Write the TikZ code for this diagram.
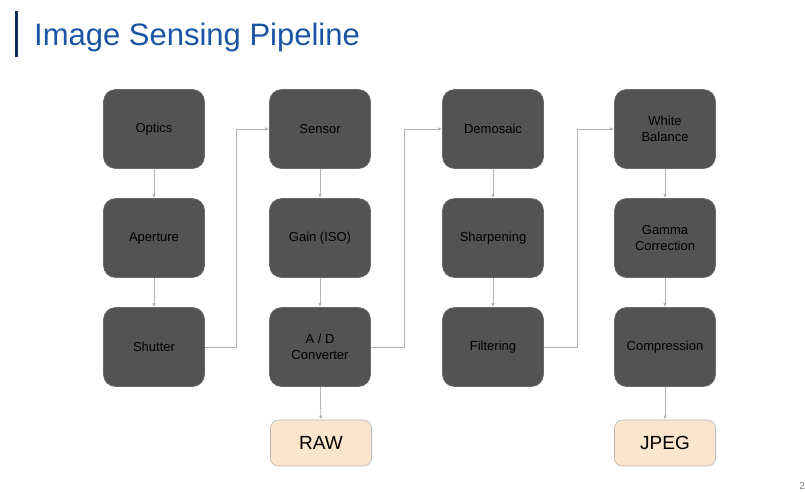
\documentclass[tikz,border=0pt]{standalone}
\usepackage{fontspec}
\setmainfont{Liberation Sans}
\usetikzlibrary{arrows.meta}

\definecolor{boxgray}{HTML}{535353}
\definecolor{boxedge}{HTML}{6A6A6A}
\definecolor{outfill}{HTML}{FCE5CD}
\definecolor{outedge}{HTML}{B7B7B7}
\definecolor{linegray}{HTML}{B3B3B3}
\definecolor{titleblue}{HTML}{1A55A5}
\definecolor{titlebar}{HTML}{0F2D5A}

\begin{document}
\begin{tikzpicture}[x=1pt, y=-1pt,
  stage/.style={draw=boxedge, fill=boxgray, rounded corners=12pt, line width=0.6pt,
    minimum width=101pt, minimum height=79pt, align=center, text=black,
    font=\fontsize{13}{15.5}\selectfont},
  result/.style={draw=outedge, fill=outfill, rounded corners=8pt, line width=0.6pt,
    minimum width=101pt, minimum height=46pt, text=black,
    font=\fontsize{19}{22}\selectfont},
  flow/.style={draw=linegray, line width=0.8pt, -{Latex[length=4pt,width=3.5pt]}}]
  \useasboundingbox (0,0) rectangle (805,491);

  % titel
  \fill[titlebar] (15,11) rectangle (18,57);
  \node[anchor=base west, inner sep=0pt, text=titleblue, font=\fontsize{31}{34}\selectfont]
    (title) at (34,45) {Image Sensing Pipeline};

  % spalte 1
  \node[stage] (optics)   at (154,129) {Optics};
  \node[stage] (aperture) at (154,238) {Aperture};
  \node[stage] (shutter)  at (154,347) {Shutter};
  % spalte 2
  \node[stage] (sensor) at (320,129) {Sensor};
  \node[stage] (gain)   at (320,238) {Gain (ISO)};
  \node[stage] (adc)    at (320,347) {A / D\\Converter};
  \node[result] (raw)   at (321,443) {RAW};
  % spalte 3
  \node[stage] (demosaic)  at (493,129) {Demosaic};
  \node[stage] (sharpen)   at (493,238) {Sharpening};
  \node[stage] (filtering) at (493,347) {Filtering};
  % spalte 4
  \node[stage] (whitebal) at (665,129) {White\\Balance};
  \node[stage] (gamma)    at (665,238) {Gamma\\Correction};
  \node[stage] (compress) at (665,347) {Compression};
  \node[result] (jpeg)    at (665,443) {JPEG};

  % pfeile
  \draw[flow] (optics) -- (aperture);
  \draw[flow] (aperture) -- (shutter);
  \draw[flow] (shutter.east) -- ++(32,0) |- (sensor.west);
  \draw[flow] (sensor) -- (gain);
  \draw[flow] (gain) -- (adc);
  \draw[flow] (adc) -- (raw);
  \draw[flow] (adc.east) -- ++(34,0) |- (demosaic.west);
  \draw[flow] (demosaic) -- (sharpen);
  \draw[flow] (sharpen) -- (filtering);
  \draw[flow] (filtering.east) -- ++(34,0) |- (whitebal.west);
  \draw[flow] (whitebal) -- (gamma);
  \draw[flow] (gamma) -- (compress);
  \draw[flow] (compress) -- (jpeg);

  % seitenzahl
  \node[anchor=base east, inner sep=0pt, text=gray, font=\fontsize{10}{10}\selectfont]
    (pagenum) at (805,489) {2};
\end{tikzpicture}
\end{document}
